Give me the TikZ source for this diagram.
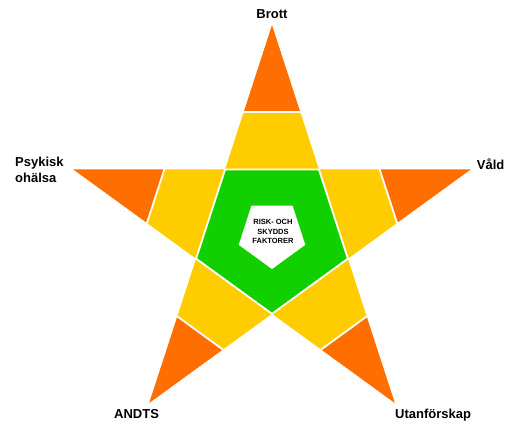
\documentclass[tikz,border=0pt]{standalone}
\usepackage{fontspec}
\setmainfont{Liberation Sans}
\usepackage{xcolor}
\usepackage{tikz}
\usetikzlibrary{calc}

\definecolor{starorange}{RGB}{255,110,0}
\definecolor{staryellow}{RGB}{255,204,0}
\definecolor{stargreen}{RGB}{18,208,0}

\begin{document}
\begin{tikzpicture}[
			x=1pt, y=1pt,
			tiplabel/.style={font=\bfseries\fontsize{13}{16}\selectfont, inner sep=0pt},
			corelabel/.style={font=\bfseries\fontsize{7.5}{9.3}\selectfont, align=center, inner sep=0pt},
			yellowpart/.style={fill=staryellow},
			orangepart/.style={fill=starorange},
			greenpart/.style={fill=stargreen},
			gap/.style={draw=white, line width=1.8pt, line cap=round}
			]
			\useasboundingbox (-272,-198) rectangle (258,234);
			
			% tips (T), inner corners (C) and the white core (W)
			\foreach \i in {0,...,4} {
				\coordinate (T\i) at ({90+72*\i}:209);
				\coordinate (C\i) at ({126+72*\i}:79.8);
				\coordinate (W\i) at ({126+72*\i}:35);
			}
			
			% arms: yellow next to the core, orange at the tip
			\foreach \i in {0,...,4} {
				\pgfmathtruncatemacro{\j}{mod(\i+4,5)}
				\fill[yellowpart] (C\j) -- (C\i) -- ($(C\i)!0.4!(T\i)$) -- ($(C\j)!0.4!(T\i)$) -- cycle;
				\fill[orangepart] ($(C\i)!0.4!(T\i)$) -- (T\i) -- ($(C\j)!0.4!(T\i)$) -- cycle;
				\draw[gap] ($(C\i)!0.4!(T\i)$) -- ($(C\j)!0.4!(T\i)$);
			}
			
			% green ring round the white core
			\fill[greenpart] (C0) -- (C1) -- (C2) -- (C3) -- (C4) -- cycle;
			\fill[white] (W0) -- (W1) -- (W2) -- (W3) -- (W4) -- cycle;
			\draw[gap] (C0) -- (C1) -- (C2) -- (C3) -- (C4) -- cycle;
			
			\node[corelabel] (core) at (1,2.5) {RISK- OCH\\SKYDDS\\FAKTORER};
			
			\node[tiplabel, anchor=base] (brott) at (0,215.7) {Brott};
			\node[tiplabel, anchor=west, align=left] (psykisk) at (-257,64.5) {Psykisk\\ohälsa};
			\node[tiplabel, anchor=base west] (vald) at (204.7,65) {Våld};
			\node[tiplabel, anchor=base west] (andts) at (-158,-184.5) {ANDTS};
			\node[tiplabel, anchor=base west] (utanfor) at (123,-184.5) {Utanförskap};
		\end{tikzpicture}
\end{document}
